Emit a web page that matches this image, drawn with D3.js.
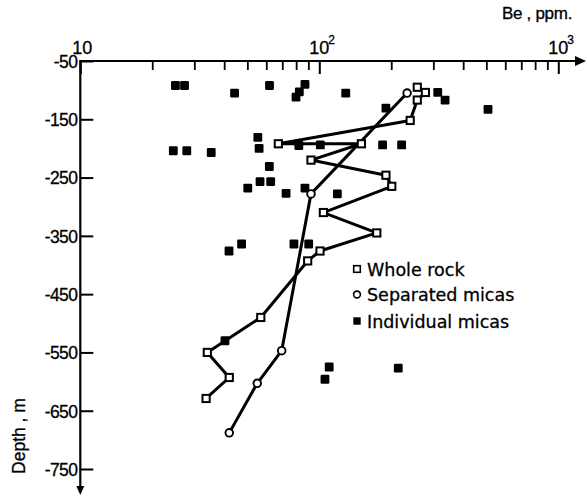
<!DOCTYPE html>
<html>
<head>
<meta charset="utf-8">
<script src="https://cdn.jsdelivr.net/npm/d3@7"></script>
<style>
  body { margin: 0; background: #fff; }
  svg text { fill: #000; stroke: #000; stroke-width: 0.3px; }
</style>
</head>
<body>
<div id="chart"></div>
<script>
"use strict";

// Be (ppm) against depth (m)
var rockBe    = [257, 278, 257, 240, 67.4, 150, 92.3, 190, 201, 104, 174, 100.7, 89.4, 56.9, 34.0, 42.0, 33.6];
var rockDepth = [-95, -104, -117, -152, -192, -192, -220, -246, -265, -310, -345, -376, -393, -490, -550, -593, -629];

var micaBe    = [233, 92.3, 69.6, 55.0, 42.0];
var micaDepth = [-105, -278, -547, -603, -688];

var indivBe    = [25.0, 27.3, 44.2, 61.9, 87.1, 82.5, 79.9, 129, 190, 313, 336, 508,
                  55.3, 56.0, 82.1, 101, 184, 221, 24.5, 27.9, 35.3, 61.8, 56.5, 62.6,
                  50.2, 72.6, 87.1, 119, 47.3, 41.9, 78.3, 90.3, 40.3, 110, 105.6, 214];
var indivDepth = [-92, -92, -105, -92, -90, -103, -112, -105, -131, -104, -117, -133,
                  -181, -200, -195, -194, -194, -194, -204, -204, -207, -231, -257, -257,
                  -268, -277, -268, -278, -364, -376, -364, -364, -530, -575, -596, -577];

var majorTicks = [10, 100, 1000];
var majorExp   = ["", "2", "3"];
var minorTicks = [20, 30, 40, 50, 60, 70, 80, 90, 200, 300, 400, 500, 600, 700, 800, 900];
var depthTicks = [-50, -150, -250, -350, -450, -550, -650, -750];
var legendLabels = ["Whole rock", "Separated micas", "Individual micas"];

var width = 586, height = 499;
var svg = d3.select('#chart').append('svg')
  .attr('width', width)
  .attr('height', height);

var x = d3.scaleLog().domain([10, 1000]).range([80.3, 558.3]);
var y = d3.scaleLinear().domain([-50, -750]).range([61, 469]);

var axisFont = "'Liberation Sans', Arial, sans-serif";
var legendFont = "'DejaVu Sans', sans-serif";

// top axis: ticks pointing down into the plot
svg.append('g')
  .attr('transform', 'translate(0,' + y(-50) + ')')
  .call(d3.axisTop(x).tickValues(minorTicks).tickSize(-9).tickFormat(''))
  .call(function(g) { g.select('.domain').remove(); })
  .selectAll('line').attr('stroke-width', 1.8);
svg.append('g')
  .attr('transform', 'translate(0,' + y(-50) + ')')
  .call(d3.axisTop(x).tickValues(majorTicks).tickSize(-13).tickFormat(''))
  .call(function(g) { g.select('.domain').remove(); })
  .selectAll('line').attr('stroke-width', 2);

var xl = svg.append('g').attr('font-family', axisFont);
xl.selectAll('text.base')
  .data(majorTicks).enter()
  .append('text')
  .attr('class', 'base')
  .attr('x', function(d, i) { return x(d) + (i === 0 ? 2 : 0); })
  .attr('y', 54)
  .attr('text-anchor', 'middle')
  .attr('font-size', 18)
  .text('10');
xl.selectAll('text.exp')
  .data(majorTicks).enter()
  .append('text')
  .attr('class', 'exp')
  .attr('x', function(d) { return x(d) + 9; })
  .attr('y', 44)
  .attr('font-size', 12)
  .text(function(d, i) { return majorExp[i]; });

// left axis: ticks pointing right, labels on the left
var ya = svg.append('g')
  .attr('transform', 'translate(' + x(10) + ',0)')
  .call(d3.axisLeft(y).tickValues(depthTicks).tickSize(-13).tickPadding(3)
        .tickFormat(function(d) { return '-' + Math.abs(d); }));
ya.select('.domain').remove();
ya.selectAll('line').attr('stroke-width', 2);
ya.selectAll('text')
  .attr('font-family', axisFont)
  .attr('font-size', 17.5)
  .attr('dy', '0.36em')
  .attr('letter-spacing', -0.6);

// axis lines with arrows
var x0 = x(10), y0 = y(-50);
svg.append('line')
  .attr('x1', x0).attr('y1', y0).attr('x2', 580).attr('y2', y0)
  .attr('stroke', '#000').attr('stroke-width', 2.2);
svg.append('path')
  .attr('d', 'M586,' + y0 + 'L575,' + (y0 - 5) + 'L575,' + (y0 + 5) + 'Z')
  .attr('fill', '#000');
svg.append('line')
  .attr('x1', x0).attr('y1', y0 - 1).attr('x2', x0).attr('y2', 488)
  .attr('stroke', '#000').attr('stroke-width', 2.2);
svg.append('path')
  .attr('d', 'M' + x0 + ',495L' + (x0 - 4) + ',486L' + (x0 + 4) + ',486Z')
  .attr('fill', '#000');

// axis titles
svg.append('text')
  .attr('x', 502).attr('y', 19)
  .attr('font-family', axisFont)
  .attr('font-size', 17)
  .attr('letter-spacing', -0.3)
  .text('Be , ppm.');
svg.append('text')
  .attr('transform', 'translate(25,436) rotate(-90)')
  .attr('text-anchor', 'middle')
  .attr('font-family', axisFont)
  .attr('font-size', 17.5)
  .text('Depth , m');

// series lines
var line = d3.line()
  .x(function(d) { return x(d[0]); })
  .y(function(d) { return y(d[1]); });

var rock = d3.zip(rockBe, rockDepth);
var mica = d3.zip(micaBe, micaDepth);
var indiv = d3.zip(indivBe, indivDepth);

svg.append('path')
  .datum(rock)
  .attr('d', line)
  .attr('fill', 'none')
  .attr('stroke', '#000')
  .attr('stroke-width', 3)
  .attr('stroke-linejoin', 'round');
svg.append('path')
  .datum(mica)
  .attr('d', line)
  .attr('fill', 'none')
  .attr('stroke', '#000')
  .attr('stroke-width', 3)
  .attr('stroke-linejoin', 'round');

// individual micas: filled squares
svg.selectAll('rect.indiv')
  .data(indiv).enter()
  .append('rect')
  .attr('class', 'indiv')
  .attr('x', function(d) { return x(d[0]) - 4.4; })
  .attr('y', function(d) { return y(d[1]) - 4.4; })
  .attr('width', 8.8).attr('height', 8.8)
  .attr('rx', 1.2)
  .attr('fill', '#000');

// whole rock: open squares
svg.selectAll('rect.rock')
  .data(rock).enter()
  .append('rect')
  .attr('class', 'rock')
  .attr('x', function(d) { return x(d[0]) - 3.6; })
  .attr('y', function(d) { return y(d[1]) - 3.6; })
  .attr('width', 7.2).attr('height', 7.2)
  .attr('fill', '#fff')
  .attr('stroke', '#000')
  .attr('stroke-width', 2);

// separated micas: open circles
svg.selectAll('circle.mica')
  .data(mica).enter()
  .append('circle')
  .attr('class', 'mica')
  .attr('cx', function(d) { return x(d[0]); })
  .attr('cy', function(d) { return y(d[1]); })
  .attr('r', 3.8)
  .attr('fill', '#fff')
  .attr('stroke', '#000')
  .attr('stroke-width', 1.9);

// legend
var lg = svg.append('g').attr('transform', 'translate(357,269)');
var rowY = [0, 25.5, 52];
lg.append('rect')
  .attr('x', -3.3).attr('y', rowY[0] - 3.3)
  .attr('width', 6.6).attr('height', 6.6)
  .attr('fill', '#fff').attr('stroke', '#000').attr('stroke-width', 1.6);
lg.append('circle')
  .attr('cx', 0).attr('cy', rowY[1]).attr('r', 3.4)
  .attr('fill', '#fff').attr('stroke', '#000').attr('stroke-width', 1.6);
lg.append('rect')
  .attr('x', -3.7).attr('y', rowY[2] - 3.7)
  .attr('width', 7.4).attr('height', 7.4)
  .attr('fill', '#000');
lg.selectAll('text')
  .data(legendLabels).enter()
  .append('text')
  .attr('x', 10)
  .attr('y', function(d, i) { return rowY[i] + 6.5; })
  .attr('font-family', legendFont)
  .attr('font-size', 17.5)
  .text(function(d) { return d; });
</script>
</body>
</html>
